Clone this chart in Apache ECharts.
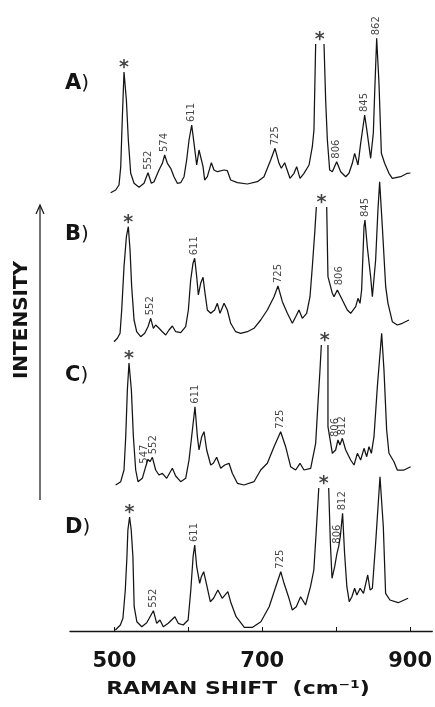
<!DOCTYPE html>
<html><head><meta charset="utf-8">
<script src="https://cdn.jsdelivr.net/npm/echarts@6/dist/echarts.min.js"></script>
<style>html,body{margin:0;padding:0;background:#fff}#c{width:435px;height:707px}</style>
</head><body><div id="c"></div>
<script>
// Raman shift (cm-1) and relative intensity for each spectrum
const shiftA = [494.6,501.3,505.8,508.1,510.3,512.5,515.7,518.3,521.5,526,532.7,539.4,544.7,549.2,552.8,559.5,564,567.1,570.7,575.2,579.6,584.1,588.6,593.1,596.6,599.8,603.4,606.5,610.1,613.2,615.4,618.6,620.8,624.4,629.8,633.3,637.8,646.8,651.2,655.7,664.7,678.1,691.5,700.4,709.4,715.2,720.6,723.7,728.2,735.3,740.7,744.3,748.8,754.1,760.9,765.3,767.5,769.8,775.4,781,783.2,785.5,788.6,792.2,798,803.4,810.1,814.5,819,822.1,826.6,830.2,835.6,839.1,843.6,847.2,849,851.7,854.8,858,862.4,868.2,872.7,883.9,892.9,897];
const intA   = [2.3,5,10,28.3,78.3,123,95,55,21.7,11.7,7.7,11.7,22.3,11.7,13.3,25,31.7,40,31.7,26.7,18.3,11.7,12.3,18.3,35,55,70,51.7,30,45,45,28.3,15,18.3,32.3,25,23.3,25,24.3,15,12.3,11,13.3,18.3,35,46.7,31.7,26.7,32.3,16.7,21.7,28.3,16.7,21.7,30,48.3,65,151,null,151,95,55,25,23.3,33.3,23.3,18.3,21.7,31.7,41.7,30,51.7,80,61.7,36.7,61.7,101.7,156.7,111.7,41.7,31.7,21.7,16.7,18.3,21.7,22];

const shiftB = [499.1,503.6,507.2,509.4,512.5,515.7,518.3,520.6,522.8,526,529.5,534.9,540.3,544.7,548.3,551.9,555,558.2,564,568.5,572.9,577.4,581.9,588.6,595.3,598.9,602,605.1,607.4,610.1,612.3,615.4,618.6,621.3,624.4,628.9,634.2,637.8,641.4,646.8,651.2,655.7,662.4,669.1,678.1,687,696,704.9,713.9,719.2,725.1,731.8,738.5,743,747.4,751.9,757.7,762.2,765.3,768.5,770.7,777.6,784.6,786.3,792.2,794.4,798.9,801.1,805.6,812.3,816.8,823.5,826.6,829.3,831.5,834.7,836,839.1,843.6,845.9,848.1,850.3,853.4,855.7,859.3,863.8,866.9,872.7,879.4,886.1,895.1];
const intB   = [1.3,4.7,9.7,33,76.3,106.3,116.3,93,56.3,23,11.3,6.3,9.7,16.3,24.7,14.7,18,15.7,11.3,8,13,17,11.3,10.3,16.3,33,63,79.7,84.7,66.3,48,59.7,65.7,49.7,33,29.7,33,39.7,29.7,39.7,33,19.7,11.3,9.7,11.3,14.7,23,33,46.3,57,41.3,29.7,19.7,26.3,33,24.7,29.7,46.3,76.3,109.7,136,null,136,66.3,49.7,46.3,53,54.7,43,33,29.7,36.3,44.7,39.7,53,116.3,123,96.3,66.3,46.3,48,83,133,161.3,116.3,56.3,39.7,21.3,18,19.7,23];

const shiftC = [501.3,508.1,512.5,514.8,517,519.2,522.4,525.1,528.2,531.3,537.1,541.6,544.7,547.4,550.6,555,559.5,564,569.8,577.4,581.9,588.6,595.3,599.8,604.3,607.8,611,613.2,616.8,619.9,623.5,628.9,632.4,636.9,642.3,647.7,653.5,657.9,664.7,673.6,687,696,704.9,713.9,722.8,729.5,736.2,742.9,748.8,754.1,763.1,769.8,772.9,775.6,777.4,781.8,786.3,786.3,792.2,796.6,799.7,802.4,805.6,810.1,816.8,821.3,825.8,830.2,834.7,838.3,841.4,844.6,848.1,852.6,858.4,861.5,865.1,868.2,874.9,879.4,888.4,897.3];
const intC   = [2,5.3,17,50.3,97,124,97,50.3,17,5.3,8.7,20.3,27.7,25.3,29.7,17,12,13.7,8.7,18.7,11,5.3,8.7,27,57,80.3,50.3,37,50.3,55.3,37,22,23.7,29.7,18.7,22,23.7,13.7,3.7,2,5.3,17,23.7,40.3,55.3,40.3,20.3,17,23.7,17,18.7,43.7,83.7,117,142,null,142,60.3,33.7,37,47,42,48.7,37,27,22,33.7,27,38.7,30.3,40.3,33.7,50.3,100.3,153.7,117,57,33.7,25.3,17,17,20.3];

const shiftD = [501.3,508.1,511.6,514.8,517,518.3,520.6,522.8,525.1,526.8,530.4,537.1,543.8,548.3,552.8,557.3,561.7,566.2,572.9,581.9,586.4,593.1,599.8,603.4,606.5,608.7,611.4,615.4,617.7,620.8,624.4,629.8,634.2,640,645.9,653.5,657.9,664.7,675.8,687,698.2,709.4,718.3,725.1,729.5,736.2,740.7,746.1,751.9,758.6,765.3,769.8,772.9,776.5,783.2,789.9,792.2,794.4,798,801.1,803.4,805.6,808.7,811.4,814.5,817.7,821.3,825,828,832.5,837,842.7,845.9,849,853.4,859.3,863.8,866.9,872.7,883.9,897.3];
const intD   = [1,6,12.7,41,74.3,101,114,101,74.3,24.3,9.3,4.3,8.3,14.3,20.3,7.7,11,4.3,7.7,14.3,7.7,6,11,41,74.3,86,64.3,47.7,54.3,59.3,47.7,29.3,32.7,41,32.7,39.3,27.7,14.3,3.7,3.7,9.3,24.3,44.3,59.3,47.7,32.7,21,24.3,34.3,26,44.3,61,97.7,143,null,143,87.7,52.7,64.3,77.7,84.3,94.3,117.7,77.7,44.3,29.3,34.3,42.7,36,42.7,37.7,56,41,42.7,87.7,154.3,104.3,37.7,31,28.3,32.7];

// peak labels (text) and the shift where each label stands
const peakTextA = ['552','574','611','725','806','845','862'];
const peakAtA   = [544.7,567.1,603.4,715.2,798,835.6,851.7];
const peakTextB = ['552','611','725','806','845'];
const peakAtB   = [548.3,607.4,719.2,801.1,836];
const peakTextC = ['547','552','611','725','806','812'];
const peakAtC   = [540.5,552,607.8,722.8,796.8,805.8];
const peakTextD = ['552','611','725','806','812'];
const peakAtD   = [552.8,608.7,725.1,801.5,808.7];
// asterisk-marked peaks
const starAtA = [512.5,775.4];
const starAtB = [518.3,777.6];
const starAtC = [519.2,781.8];
const starAtD = [520.6,783.2];

const panelNames = ['A','B','C','D'];
const xTicks = [500,600,700,800,900];
const xTickLabels = [500,700,900];
const xTitle = 'RAMAN SHIFT  (cm\u207B\u00B9)';
const yTitle = 'INTENSITY';

const FONT = '"DejaVu Sans", sans-serif';
const INK = '#141414';
const panels = [
  {shift: shiftA, inten: intA, pt: peakTextA, pa: peakAtA, st: starAtA, base: 195, h: 170, ly: 84},
  {shift: shiftB, inten: intB, pt: peakTextB, pa: peakAtB, st: starAtB, base: 343, h: 170, ly: 235},
  {shift: shiftC, inten: intC, pt: peakTextC, pa: peakAtC, st: starAtC, base: 487, h: 165, ly: 376},
  {shift: shiftD, inten: intD, pt: peakTextD, pa: peakAtD, st: starAtD, base: 631, h: 165, ly: 528}
];

function peakHeight(p, x, win) {
  let best = 0;
  p.shift.forEach((s, i) => {
    if (Math.abs(s - x) <= win && p.inten[i] != null && p.inten[i] > best) best = p.inten[i];
  });
  return best;
}

const grid = [], xAxis = [], yAxis = [], series = [], graphic = [];
panels.forEach((p, k) => {
  grid.push({left: 70, right: 0, top: p.base - p.h, height: p.h});
  const last = k === panels.length - 1;
  xAxis.push({
    type: 'value', gridIndex: k, min: 440, max: 930, show: last, offset: last ? 14 : 0,
    axisLine: {show: true, lineStyle: {color: INK, width: 1.3}},
    axisTick: {show: true, inside: true, length: 4, customValues: xTicks, lineStyle: {color: INK}},
    axisLabel: {customValues: xTickLabels, fontSize: 21, fontWeight: 'bold', fontFamily: FONT, color: INK, margin: 6},
    splitLine: {show: false}
  });
  yAxis.push({type: 'value', gridIndex: k, min: 0, max: p.h, show: false, splitLine: {show: false}});
  series.push({
    type: 'line', xAxisIndex: k, yAxisIndex: k, showSymbol: false, clip: false, connectNulls: false,
    data: p.shift.map((s, i) => [s, p.inten[i]]),
    lineStyle: {color: INK, width: 1.25}, animation: false, silent: true
  });
  series.push({
    type: 'scatter', xAxisIndex: k, yAxisIndex: k, symbolSize: 0, clip: false, silent: true, animation: false,
    data: p.pa.map(x => [x, peakHeight(p, x, 4)]),
    label: {show: true, formatter: q => p.pt[q.dataIndex], rotate: 90, position: 'top', distance: 3,
      align: 'left', verticalAlign: 'middle', fontSize: 10, fontFamily: FONT, color: INK}
  });
  series.push({
    type: 'scatter', xAxisIndex: k, yAxisIndex: k, symbolSize: 0, clip: false, silent: true, animation: false,
    data: p.st.map(x => [x, peakHeight(p, x, 7)]),
    label: {show: true, formatter: '*', position: 'top', distance: 0, offset: [0, 6],
      fontSize: 19, fontWeight: 'bold', fontFamily: FONT, color: INK}
  });
  graphic.push({
    type: 'text', x: 65, y: p.ly, silent: true,
    style: {text: '{b|' + panelNames[k] + '}{p|)}', verticalAlign: 'middle', fill: INK,
      rich: {b: {fontSize: 21, fontWeight: 'bold', fontFamily: FONT, fill: INK},
             p: {fontSize: 20, fontWeight: 'normal', fontFamily: FONT, fill: INK}}}
  });
});

graphic.push({type: 'line', silent: true, shape: {x1: 40, y1: 500, x2: 40, y2: 206}, style: {stroke: INK, lineWidth: 1.2}});
graphic.push({type: 'polyline', silent: true, shape: {points: [[36, 214], [40, 205], [44, 214]]}, style: {stroke: INK, lineWidth: 1.2, fill: null}});
graphic.push({type: 'text', x: 22, y: 320, rotation: Math.PI / 2, silent: true,
  style: {text: yTitle, align: 'center', verticalAlign: 'middle', fontSize: 20, fontWeight: 'bold', fontFamily: FONT, fill: INK}});
graphic.push({type: 'text', x: 238, y: 689, scaleX: 1.22, silent: true,
  style: {text: xTitle, align: 'center', verticalAlign: 'middle', fontSize: 18, fontWeight: 'bold', fontFamily: FONT, fill: INK}});

const chart = echarts.init(document.getElementById('c'), null, {renderer: 'canvas'});
chart.setOption({animation: false, backgroundColor: '#fff', grid, xAxis, yAxis, series, graphic});
</script></body></html>
